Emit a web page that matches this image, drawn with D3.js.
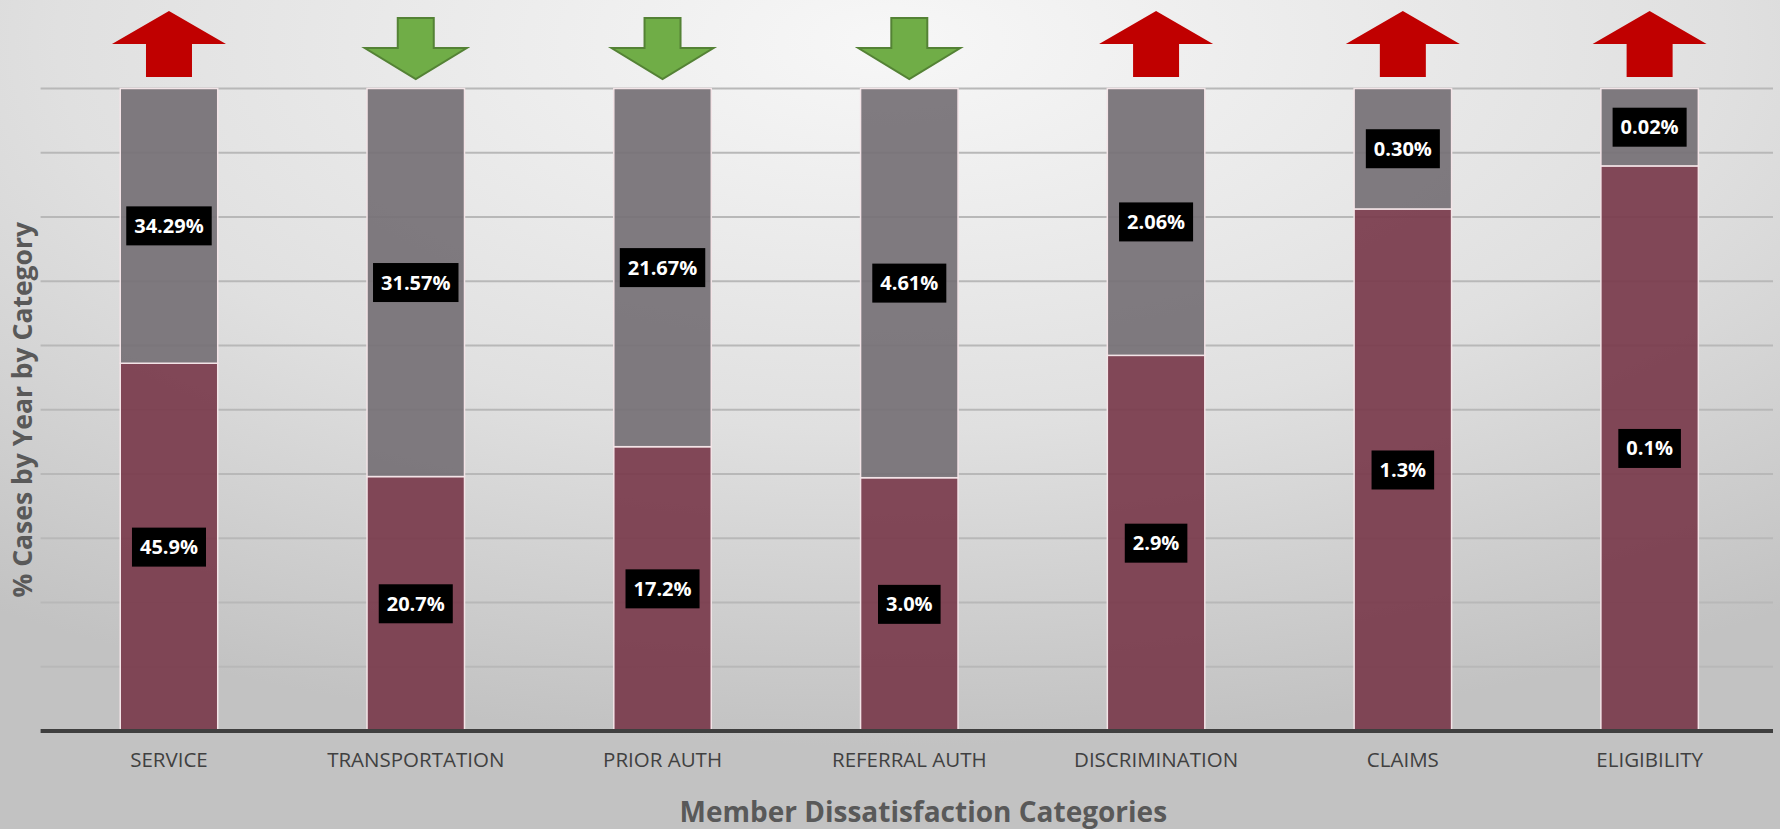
<!DOCTYPE html>
<html>
<head>
<meta charset="utf-8">
<script src="https://cdn.jsdelivr.net/npm/d3@7"></script>
<style>
  html, body { margin: 0; padding: 0; overflow: hidden; }
  svg { display: block; font-family: "Open Sans", "Noto Sans", sans-serif; }
</style>
</head>
<body>
<div id="chart"></div>
<script>
// categories and the two years being compared (% of cases)
const categories = ["SERVICE", "TRANSPORTATION", "PRIOR AUTH", "REFERRAL AUTH", "DISCRIMINATION", "CLAIMS", "ELIGIBILITY"];
const currentYear = [45.9, 20.7, 17.2, 3.0, 2.9, 1.3, 0.146];
const priorYear = [34.29, 31.57, 21.67, 4.61, 2.06, 0.30, 0.02];
const yTicks = [0, 0.1, 0.2, 0.3, 0.4, 0.5, 0.6, 0.7, 0.8, 0.9, 1];

const width = 1780, height = 829;
const margin = {top: 88.5, right: 7, bottom: 98, left: 45.6};

const svg = d3.select("#chart")
  .append("svg")
  .attr("width", width)
  .attr("height", height);

// background
const defs = svg.append("defs");
const grad = defs.append("radialGradient")
  .attr("id", "bg")
  .attr("cx", "50%").attr("cy", "5%").attr("r", "85%");
grad.append("stop").attr("offset", "0%").attr("stop-color", "#f7f7f7");
grad.append("stop").attr("offset", "55%").attr("stop-color", "#e0e0e0");
grad.append("stop").attr("offset", "100%").attr("stop-color", "#c2c2c2");
svg.append("rect").attr("width", width).attr("height", height).attr("fill", "url(#bg)");

const table = categories.map((c, i) => ({cat: c, current: currentYear[i], prior: priorYear[i]}));
const stack = d3.stack().keys(["current", "prior"]).offset(d3.stackOffsetExpand);
const series = stack(table);

const x = d3.scaleBand()
  .domain(categories)
  .range([margin.left, width - margin.right])
  .paddingInner(0.605)
  .paddingOuter(0.3025);

const y = d3.scaleLinear()
  .domain([0, 1])
  .range([height - margin.bottom, margin.top]);

// gridlines
svg.append("g")
  .selectAll("line")
  .data(yTicks.slice(1))
  .enter()
  .append("line")
  .attr("x1", margin.left - 5)
  .attr("x2", width - margin.right)
  .attr("y1", d => y(d))
  .attr("y2", d => y(d))
  .attr("stroke", "#b8b8b8")
  .attr("stroke-width", 2);

const colors = {current: "#7a3b4c", prior: "#767176"};

// stacked bars
svg.append("g")
  .selectAll("g")
  .data(series)
  .enter()
  .append("g")
  .attr("fill", d => colors[d.key])
  .selectAll("rect")
  .data(d => d)
  .enter()
  .append("rect")
  .attr("x", d => x(d.data.cat))
  .attr("width", x.bandwidth())
  .attr("y", d => y(d[1]))
  .attr("height", d => y(d[0]) - y(d[1]))
  .attr("fill-opacity", 0.93)
  .attr("stroke", "#f3e4e7")
  .attr("stroke-width", 1.5);

// value labels
const fmt = {current: d3.format(".1f"), prior: d3.format(".2f")};
series.forEach(s => {
  const lab = svg.append("g")
    .selectAll("g")
    .data(s)
    .enter()
    .append("g")
    .attr("transform", d => `translate(${x(d.data.cat) + x.bandwidth() / 2},${(y(d[0]) + y(d[1])) / 2})`);

  const txt = lab.append("text")
    .attr("text-anchor", "middle")
    .attr("dy", "0.35em")
    .attr("fill", "#ffffff")
    .attr("font-size", 20)
    .attr("font-weight", "bold")
    .text(d => fmt[s.key](d.data[s.key]) + "%");

  txt.each(function() {
    const b = this.getBBox();
    d3.select(this.parentNode).insert("rect", "text")
      .attr("x", b.x - 8)
      .attr("y", -19.5)
      .attr("width", b.width + 16)
      .attr("height", 39)
      .attr("fill", "#000000");
  });
});

// x axis
const xAxis = svg.append("g")
  .attr("transform", `translate(0,${height - margin.bottom})`)
  .call(d3.axisBottom(x).tickSize(0).tickPadding(21));
xAxis.select(".domain").remove();
xAxis.append("line")
  .attr("x1", margin.left - 5)
  .attr("x2", width - margin.right)
  .attr("stroke", "#3f3f3f")
  .attr("stroke-width", 4);
xAxis.selectAll(".tick text")
  .attr("font-size", 20.5)
  .attr("font-family", "\"Open Sans\", sans-serif")
  .attr("fill", "#404040");

// change arrows
svg.append("g")
  .selectAll("path")
  .data(table)
  .enter()
  .append("path")
  .attr("transform", d => `translate(${x(d.cat) + x.bandwidth() / 2},0)`)
  .attr("d", d => {
    if (d.current > d.prior) {
      return "M0,11 L57,44 L23,44 L23,77 L-23,77 L-23,44 L-57,44 Z";
    }
    return "M-18,18 L18,18 L18,48 L51,48 L0,79 L-51,48 L-18,48 Z";
  })
  .attr("fill", d => d.current > d.prior ? "#c00000" : "#70ad47")
  .attr("stroke", d => d.current > d.prior ? "none" : "#548235")
  .attr("stroke-width", 2);

// axis titles
svg.append("text")
  .attr("x", (margin.left + width - margin.right) / 2 + 14)
  .attr("y", 822)
  .attr("text-anchor", "middle")
  .attr("font-size", 28)
  .attr("font-weight", "bold")
  .attr("fill", "#595959")
  .text("Member Dissatisfaction Categories");

svg.append("text")
  .attr("transform", `translate(32,${(y(0) + y(1)) / 2}) rotate(-90)`)
  .attr("text-anchor", "middle")
  .attr("font-size", 26.5)
  .attr("font-weight", "bold")
  .attr("fill", "#595959")
  .text("% Cases by Year by Category");
</script>
</body>
</html>
